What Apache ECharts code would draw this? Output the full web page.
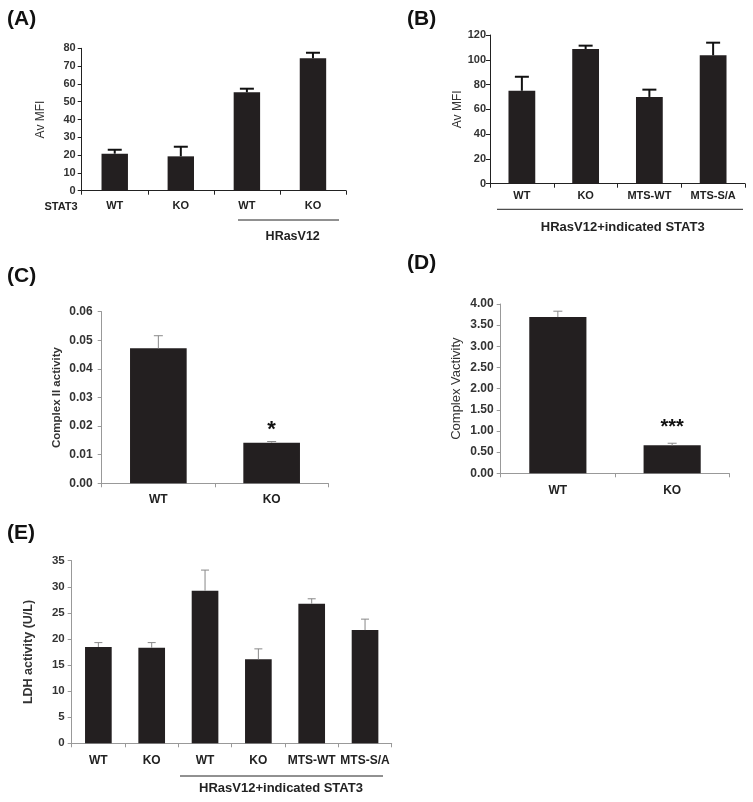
<!DOCTYPE html>
<html>
<head>
<meta charset="utf-8">
<script src="https://cdn.jsdelivr.net/npm/echarts@6/dist/echarts.min.js"></script>
<style>
html,body{margin:0;padding:0;background:#fff;}
#c{width:753px;height:802px;}
</style>
</head>
<body>
<div id="c"></div>
<script>
// ---- Data ----
const catsA = ['WT', 'KO', 'WT', 'KO'];
const meanA = [20.8, 19.3, 55.3, 74.4];
const errA  = [2.2, 5.4, 2.0, 3.1];

const catsB = ['WT', 'KO', 'MTS-WT', 'MTS-S/A'];
const meanB = [75.0, 108.7, 70.0, 103.6];
const errB  = [11.3, 2.7, 5.9, 10.2];

const catsC = ['WT', 'KO'];
const meanC = [0.0472, 0.0142];
const errC  = [0.0044, 0.0004];
const sigC  = ['', '*'];

const catsD = ['WT', 'KO'];
const meanD = [3.69, 0.66];
const errD  = [0.14, 0.05];
const sigD  = ['', '***'];

const catsE = ['WT', 'KO', 'WT', 'KO', 'MTS-WT', 'MTS-S/A'];
const meanE = [18.46, 18.3, 29.25, 16.1, 26.76, 21.7];
const errE  = [0.84, 1.0, 3.95, 2.0, 0.94, 2.1];

// ---- Styles ----
const FONT = '"Liberation Sans", Arial, sans-serif';
const BAR = '#231f20';
const chart = echarts.init(document.getElementById('c'));

function errRender(capW, lw, color) {
  return function (params, api) {
    const i = api.value(0), v = api.value(1), e = api.value(2);
    const p0 = api.coord([i, v]);
    const p1 = api.coord([i, v + e]);
    return {
      type: 'group',
      children: [
        {type: 'line', shape: {x1: p0[0], y1: p0[1], x2: p1[0], y2: p1[1]}, style: {stroke: color, lineWidth: lw}},
        {type: 'line', shape: {x1: p1[0] - capW / 2, y1: p1[1], x2: p1[0] + capW / 2, y2: p1[1]}, style: {stroke: color, lineWidth: lw}}
      ]
    };
  };
}

const panels = [
  {cats: catsA, mean: meanA, err: errA, max: 80, interval: 10, grid: {left: 81.7, top: 48.3, width: 264.3, height: 142.4},
   axisColor: '#222', errColor: '#111', errW: 2, cap: 14, barW: '40%', ylFont: 11, xlFont: 11, xMargin: 10, yMargin: 6,
   name: 'Av MFI', nameFont: 12, nameWeight: 'normal', nameGap: 35, fmt: v => String(v)},
  {cats: catsB, mean: meanB, err: errB, max: 120, interval: 20, grid: {left: 490, top: 35, width: 255, height: 148.7},
   axisColor: '#222', errColor: '#111', errW: 2, cap: 14, barW: '42%', ylFont: 11, xlFont: 11, xMargin: 7, yMargin: 4,
   name: 'Av MFI', nameFont: 12, nameWeight: 'normal', nameGap: 26, fmt: v => String(v)},
  {cats: catsC, mean: meanC, err: errC, sig: sigC, sigFont: 22, max: 0.06, interval: 0.01, grid: {left: 101.7, top: 311.7, width: 226.6, height: 171.6},
   axisColor: '#999', errColor: '#888', errW: 1, cap: 9, barW: '50%', ylFont: 12, xlFont: 12, xMargin: 10, yMargin: 9,
   name: 'Complex II activity', nameFont: 11.5, nameWeight: 'bold', nameGap: 39, fmt: v => v.toFixed(2)},
  {cats: catsD, mean: meanD, err: errD, sig: sigD, sigFont: 20, max: 4, interval: 0.5, grid: {left: 500.7, top: 304, width: 228.6, height: 169.3},
   axisColor: '#999', errColor: '#888', errW: 1, cap: 9, barW: '50%', ylFont: 12, xlFont: 12, xMargin: 11, yMargin: 7,
   name: 'Complex Vactivity', nameFont: 13, nameWeight: 'normal', nameGap: 38, fmt: v => v.toFixed(2)},
  {cats: catsE, mean: meanE, err: errE, max: 35, interval: 5, grid: {left: 71.7, top: 560.7, width: 320, height: 182.6},
   axisColor: '#999', errColor: '#888', errW: 1, cap: 8, barW: '50%', ylFont: 11.5, xlFont: 12, xMargin: 11, yMargin: 7,
   name: 'LDH activity (U/L)', nameFont: 12.5, nameWeight: 'bold', nameGap: 37, fmt: v => String(v)}
];

const option = {
  animation: false,
  backgroundColor: '#fff',
  textStyle: {fontFamily: FONT},
  grid: [], xAxis: [], yAxis: [], series: [], graphic: []
};

panels.forEach((p, k) => {
  option.grid.push(Object.assign({containLabel: false}, p.grid));
  option.xAxis.push({
    type: 'category', gridIndex: k, data: p.cats, boundaryGap: true,
    axisLine: {lineStyle: {color: p.axisColor, width: 1}},
    axisTick: {show: true, length: 4, inside: false, lineStyle: {color: p.axisColor}},
    axisLabel: {fontFamily: FONT, fontWeight: 'bold', fontSize: p.xlFont, color: '#222', margin: p.xMargin, interval: 0},
    splitLine: {show: false}
  });
  option.yAxis.push({
    type: 'value', gridIndex: k, min: 0, max: p.max, interval: p.interval,
    axisLine: {show: true, lineStyle: {color: p.axisColor, width: 1}},
    axisTick: {show: true, length: 4, lineStyle: {color: p.axisColor}},
    axisLabel: {fontFamily: FONT, fontWeight: 'bold', fontSize: p.ylFont, color: '#333', margin: p.yMargin, formatter: p.fmt},
    splitLine: {show: false},
    name: p.name, nameLocation: 'middle', nameGap: p.nameGap,
    nameTextStyle: {fontFamily: FONT, fontSize: p.nameFont, fontWeight: p.nameWeight, color: '#333'}
  });
  option.series.push({
    type: 'bar', xAxisIndex: k, yAxisIndex: k, barWidth: p.barW,
    itemStyle: {color: BAR},
    data: p.mean.map((m, i) => {
      const d = {value: m};
      if (p.sig && p.sig[i]) {
        d.label = {show: true, position: 'top', distance: p.sig[i].length > 1 ? 8 : 2, formatter: p.sig[i],
          fontFamily: FONT, fontWeight: 'bold', fontSize: p.sigFont, color: '#111'};
      }
      return d;
    }),
    z: 2
  });
  option.series.push({
    type: 'custom', xAxisIndex: k, yAxisIndex: k,
    renderItem: errRender(p.cap, p.errW, p.errColor),
    data: p.mean.map((m, i) => [i, m, p.err[i]]),
    z: 3
  });
});

const panelFont = {fontFamily: FONT, fontWeight: 'bold', fontSize: 21, fill: '#111'};
const labTxt = (t, x, y) => ({type: 'text', x: x, y: y, style: Object.assign({text: t, textVerticalAlign: 'middle'}, panelFont)});
option.graphic.push(labTxt('(A)', 7, 19));
option.graphic.push(labTxt('(B)', 407, 19));
option.graphic.push(labTxt('(C)', 7, 276));
option.graphic.push(labTxt('(D)', 407, 263));
option.graphic.push(labTxt('(E)', 7, 533));

const txt = (t, x, y, fs) => ({type: 'text', x: x, y: y, style: {text: t, textAlign: 'center', textVerticalAlign: 'middle', fontFamily: FONT, fontWeight: 'bold', fontSize: fs, fill: '#222'}});
const ln = (x1, x2, y) => ({type: 'line', shape: {x1: x1, y1: y, x2: x2, y2: y}, style: {stroke: '#222', lineWidth: 1}});

option.graphic.push(txt('STAT3', 61, 207, 11));
option.graphic.push(ln(238, 339, 220));
option.graphic.push(txt('HRasV12', 292.7, 236.7, 12.5));
option.graphic.push(ln(497, 743, 209.3));
option.graphic.push(txt('HRasV12+indicated STAT3', 622.7, 227.7, 13));
option.graphic.push(ln(180, 383, 776));
option.graphic.push(txt('HRasV12+indicated STAT3', 281, 788.3, 13));

chart.setOption(option);
</script>
</body>
</html>
